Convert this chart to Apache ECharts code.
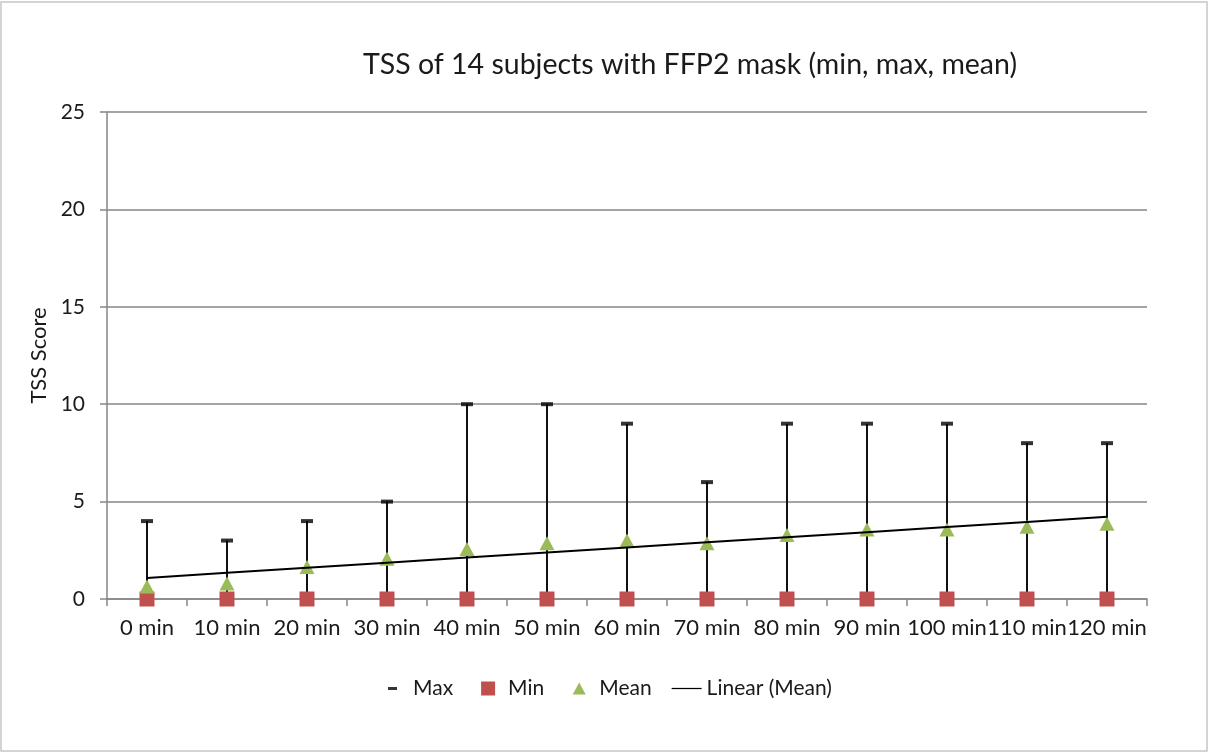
<!DOCTYPE html>
<html>
<head>
<meta charset="utf-8">
<script src="https://cdn.jsdelivr.net/npm/echarts@6/dist/echarts.min.js"></script>
<style>
html,body{margin:0;padding:0;background:#fff;}
#chart{width:1210px;height:755px;}
</style>
</head>
<body>
<div id="chart"></div>
<script>
const categories = ['0 min','10 min','20 min','30 min','40 min','50 min','60 min','70 min','80 min','90 min','100 min','110 min','120 min'];
const maxValues = [4, 3, 4, 5, 10, 10, 9, 6, 9, 9, 9, 8, 8];
const minValues = [0, 0, 0, 0, 0, 0, 0, 0, 0, 0, 0, 0, 0];
const meanValues = [0.64, 0.79, 1.64, 2.07, 2.57, 2.86, 3.0, 2.86, 3.29, 3.57, 3.57, 3.71, 3.86];
const yTicks = [0, 5, 10, 15, 20, 25];

// least-squares linear trend of the mean series
const n = meanValues.length;
const mx = (n - 1) / 2;
const my = meanValues.reduce((a, b) => a + b, 0) / n;
let sxy = 0, sxx = 0;
meanValues.forEach((v, i) => { sxy += (i - mx) * (v - my); sxx += (i - mx) * (i - mx); });
const slope = sxy / sxx;
const intercept = my - slope * mx;
const trendValues = meanValues.map((v, i) => +(intercept + slope * i).toFixed(4));

const FONT = 'Lato';
const chart = echarts.init(document.getElementById('chart'));
chart.setOption({
  backgroundColor: '#fff',
  animation: false,
  textStyle: { fontFamily: FONT },
  title: {
    text: 'TSS of 14 subjects with FFP2 mask (min, max, mean)',
    left: 685, top: 45, textAlign: 'center',
    textStyle: { fontFamily: FONT, fontSize: 28.5, fontWeight: 'normal', color: '#1a1a1a' }
  },
  graphic: [{
    type: 'rect', silent: true,
    shape: { x: 1, y: 2, width: 1206, height: 749 },
    style: { fill: 'none', stroke: '#c6c6c6', lineWidth: 1.5 }
  }],
  legend: {
    bottom: 51, left: 'center',
    itemWidth: 30, itemHeight: 14, itemGap: 20,
    textStyle: { fontFamily: FONT, fontSize: 21, color: '#1a1a1a' },
    data: [
      { name: 'Max', icon: 'path://M0,0 M30,14 M10,5.5 H19 V8.5 H10 Z', itemStyle: { color: '#000' } },
      { name: 'Min', icon: 'path://M0,0 M30,14 M8,0 H22 V14 H8 Z', itemStyle: { color: '#C0504D' } },
      { name: 'Mean', icon: 'path://M0,0 M30,14 M8.5,13 L15,1 L21.5,13 Z', itemStyle: { color: '#9BBB59' } },
      { name: 'Linear (Mean)', icon: 'path://M0,0 M34,14 M0,6.3 H34 V7.7 H0 Z', itemStyle: { color: '#000' } }
    ]
  },
  grid: { left: 107, right: 63, top: 112, bottom: 156 },
  xAxis: {
    type: 'category',
    data: categories,
    boundaryGap: true,
    axisLine: { lineStyle: { color: '#868686', width: 1.5 } },
    axisTick: { show: true, length: 7, lineStyle: { color: '#868686', width: 1.5 } },
    axisLabel: { fontFamily: FONT, fontSize: 22, color: '#1a1a1a', margin: 18, interval: 0 }
  },
  yAxis: {
    type: 'value',
    min: yTicks[0], max: yTicks[yTicks.length - 1], interval: 5,
    name: 'TSS Score', nameLocation: 'middle', nameGap: 53, nameRotate: 90,
    nameTextStyle: { fontFamily: FONT, fontSize: 22, color: '#1a1a1a' },
    axisLine: { show: true, lineStyle: { color: '#868686', width: 1.5 } },
    axisTick: { show: true, length: 7, lineStyle: { color: '#868686', width: 1.5 } },
    axisLabel: { fontFamily: FONT, fontSize: 21, color: '#1a1a1a', margin: 22 },
    splitLine: { show: true, lineStyle: { color: '#868686', width: 1.5 } }
  },
  series: [
    {
      name: 'HighLow', type: 'custom', z: 2, silent: true,
      data: categories.map((c, i) => [i, minValues[i], maxValues[i]]),
      renderItem: function (params, api) {
        const p1 = api.coord([api.value(0), api.value(1)]);
        const p2 = api.coord([api.value(0), api.value(2)]);
        return { type: 'line', shape: { x1: p1[0], y1: p1[1], x2: p2[0], y2: p2[1] },
                 style: { stroke: '#111', lineWidth: 2 } };
      },
      encode: { x: 0, y: [1, 2] }
    },
    {
      name: 'Max', type: 'scatter', z: 3,
      data: maxValues, symbol: 'rect', symbolSize: [12, 4],
      itemStyle: { color: '#000' }
    },
    {
      name: 'Min', type: 'scatter', z: 4,
      data: minValues, symbol: 'rect', symbolSize: 15,
      itemStyle: { color: '#C0504D', opacity: 1 }
    },
    {
      name: 'Mean', type: 'scatter', z: 4,
      data: meanValues, symbol: 'triangle', symbolSize: [15, 14],
      itemStyle: { color: '#9BBB59', opacity: 1 }
    },
    {
      name: 'Linear (Mean)', type: 'line', z: 5,
      data: trendValues, showSymbol: false, symbol: 'none',
      lineStyle: { color: '#000', width: 2 }
    }
  ]
});
</script>
</body>
</html>
